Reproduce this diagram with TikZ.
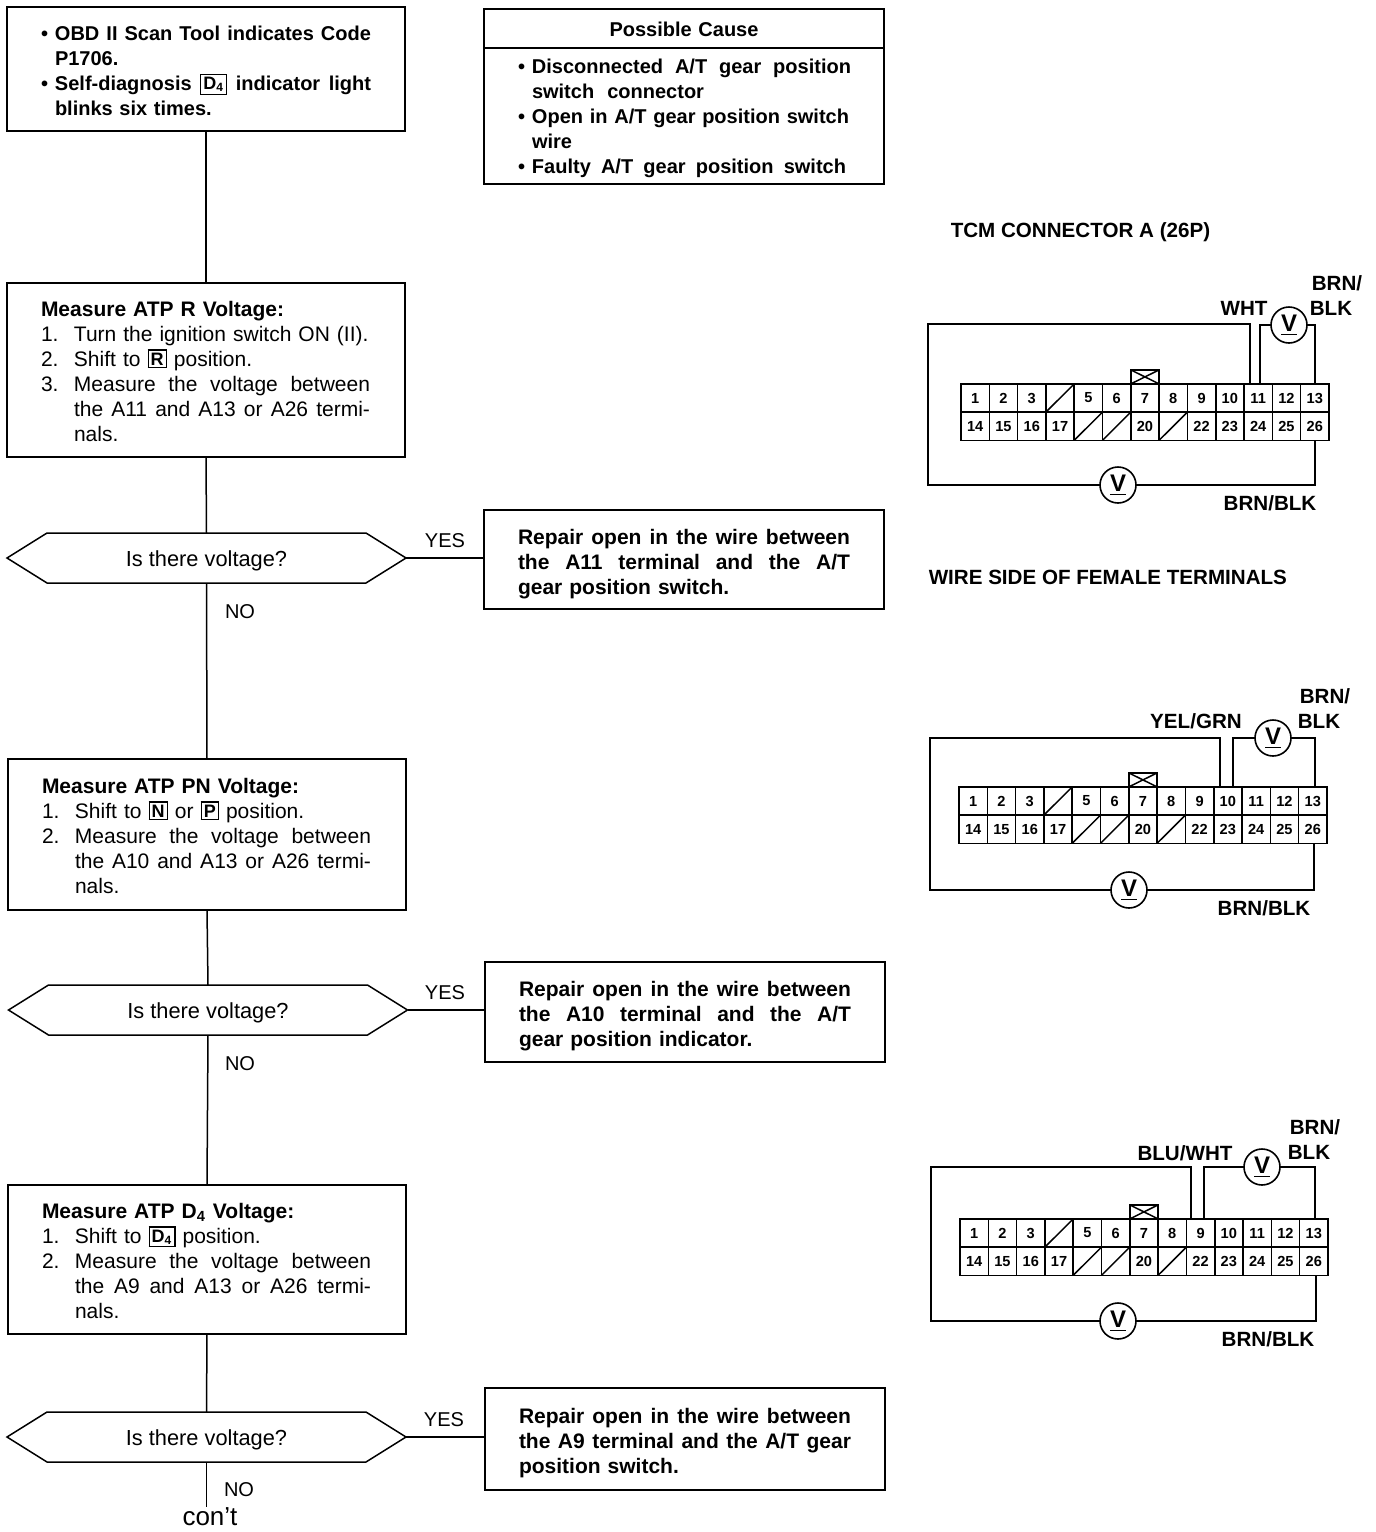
\documentclass[tikz,border=0pt]{standalone}
\usepackage{fontspec}
\setmainfont{Liberation Sans}
\usetikzlibrary{shapes.symbols}
\newcommand\rows[2][-4.5pt]{\raisebox{#1}[0pt][0pt]{\begin{tabular}{@{}l@{}}#2\end{tabular}}}
\newcommand\low[1]{\raisebox{-4pt}[0pt][0pt]{#1}}
\newcommand\wide[2]{\hbox to #1{\spaceskip=.28em plus 1fil\relax #2}}
\newcommand\bul{\makebox[7pt][l]{\textbullet}}
\newcommand\num[1]{\makebox[16.5pt][l]{#1}}
\newcommand\pos[1]{{\setlength\fboxsep{1pt}\setlength\fboxrule{.6pt}\raisebox{.5pt}{\fbox{\fontsize{9}{9}\selectfont\bfseries #1}}}}
\tikzset{
  sc/.style={x=.5pt,y=-.5pt,line width=.75pt,font=\fontsize{10.5}{12.5}\selectfont},
  stepbox/.style={draw,anchor=north west,inner ysep=0pt,inner xsep=17pt,outer sep=0pt,text width=165pt,minimum width=199pt},
  fixbox/.style={stepbox,font=\fontsize{10.5}{12.5}\selectfont\bfseries,text width=166pt,minimum width=200pt},
  causebox/.style={fixbox,font=\fontsize{10}{12.5}\selectfont\bfseries},
  ask/.style={draw,signal,signal to=west and east,signal pointer angle=64,inner sep=0pt,outer sep=0pt,minimum width=199.5pt,minimum height=25pt,font=\fontsize{10.9}{12}\selectfont},
  word/.style={font=\fontsize{10}{12}\selectfont},
  tag/.style={font=\fontsize{10.3}{12}\selectfont\bfseries,inner sep=0pt},
  pincell/.style={draw,line width=.8pt,minimum width=14.15pt,minimum height=14.1pt,inner sep=0pt,outer sep=0pt,font=\fontsize{7.3}{8}\selectfont\bfseries},
  meter/.style={draw,circle,line width=.8pt,minimum size=18pt,inner sep=0pt,outer sep=0pt,font=\fontsize{12}{12}\selectfont\bfseries},
  wire/.style={line width=1pt}
}
\begin{document}
\begin{tikzpicture}[sc]
  \useasboundingbox (0,0) rectangle (1376,1532);
  % flow, left column
  \node[stepbox,font=\fontsize{10}{12.5}\selectfont\bfseries,minimum height=62pt] (tool) at (7,7) {\rows{\bul \wide{158pt}{OBD II Scan Tool indicates Code}\\\hspace*{7pt}P1706.\\\bul \wide{158pt}{Self-diagnosis \pos{D\textsubscript{4}} indicator light}\\\hspace*{7pt}blinks six times.}};
  \node[stepbox,minimum height=87pt] (atpr) at (7,283) {\rows{\textbf{Measure ATP R Voltage:}\\\num{1.}Turn the ignition switch ON (II).\\\num{2.}Shift to \pos{R} position.\\\num{3.}\wide{148pt}{Measure the voltage between}\\\hspace*{16.5pt}\wide{148pt}{the A11 and A13 or A26 termi-}\\\hspace*{16.5pt}nals.}};
  \node[ask] (askr) at (206.5,558) {\low{Is there voltage?}};
  \node[stepbox,minimum height=75.5pt] (atpn) at (8,759) {\rows{\textbf{Measure ATP PN Voltage:}\\\num{1.}Shift to \pos{N} or \pos{P} position.\\\num{2.}\wide{148pt}{Measure the voltage between}\\\hspace*{16.5pt}\wide{148pt}{the A10 and A13 or A26 termi-}\\\hspace*{16.5pt}nals.}};
  \node[ask] (askn) at (208,1010) {\low{Is there voltage?}};
  \node[stepbox,minimum height=74.5pt] (atpd) at (8,1185) {\rows{\textbf{Measure ATP D\textsubscript{4} Voltage:}\\\num{1.}Shift to \pos{D\textsubscript{4}} position.\\\num{2.}\wide{148pt}{Measure the voltage between}\\\hspace*{16.5pt}\wide{148pt}{the A9 and A13 or A26 termi-}\\\hspace*{16.5pt}nals.}};
  \node[ask] (askd) at (206.5,1437) {\low{Is there voltage?}};
  \node[font=\fontsize{13}{14}\selectfont,inner sep=0pt] (cont) at (210,1517) {con't};

  % possible cause table
  \node[causebox,minimum height=19.5pt,align=center] (causehd) at (484,9) {\low{Possible Cause}};
  \node[causebox,minimum height=68pt] (cause) at (484,48) {\rows[-3.5pt]{\bul \wide{159.5pt}{Disconnected A/T gear position}\\\hspace*{7pt}\wide{86pt}{switch connector}\\\bul \wide{158.5pt}{Open in A/T gear position switch}\\\hspace*{7pt}wire\\\bul \wide{157pt}{Faulty A/T gear position switch}}};

  % repairs
  \node[fixbox,minimum height=49.5pt] (fixr) at (484,510) {\rows[-5pt]{\wide{166pt}{Repair open in the wire between}\\\wide{166pt}{the A11 terminal and the A/T}\\gear position switch.}};
  \node[fixbox,minimum height=50pt] (fixn) at (485,962) {\rows[-5pt]{\wide{166pt}{Repair open in the wire between}\\\wide{166pt}{the A10 terminal and the A/T}\\gear position indicator.}};
  \node[fixbox,minimum height=51pt] (fixd) at (485,1388) {\rows[-5pt]{\wide{166pt}{Repair open in the wire between}\\\wide{166pt}{the A9 terminal and the A/T gear}\\position switch.}};

  \draw (tool) -- (atpr);
  \draw (atpr.south) -- (askr.north);
  \draw (askr.south) -- (atpn.north);
  \draw (atpn.south) -- (askn.north);
  \draw (askn.south) -- (atpd.north);
  \draw (atpd.south) -- (askd.north);
  \draw (askd.south) -- (askd.south |- cont.north);
  \draw (askr.east) -- (askr.east -| fixr.west);
  \draw (askn.east) -- (askn.east -| fixn.west);
  \draw (askd.east) -- (askd.east -| fixd.west);

  \node[word] (yesr) at (445,541) {YES};
  \node[word] (nor) at (240,612) {NO};
  \node[word] (yesn) at (445,993) {YES};
  \node[word] (non) at (240,1064) {NO};
  \node[word] (yesd) at (444,1420) {YES};
  \node[word] (nod) at (239,1490) {NO};

  % captions
  \node[tag,anchor=west] (tcm) at (950,232) {TCM CONNECTOR A (26P)};
  \node[tag,anchor=west] (side) at (928,577) {WIRE SIDE OF FEMALE TERMINALS};

  % the three connector faces
  \foreach \nm/\ox/\oy in {a/961/384,b/959/787,c/960/1219}{
    \begin{scope}[shift={(\ox,\oy)}]
      \foreach \n in {1,2,3,5,6,7,8,9,10,11,12,13}{\node[pincell] (\nm\n) at ({(\n-.5)*28.3},14) {\n};}
      \foreach \n in {14,15,16,17,20,22,23,24,25,26}{\node[pincell] (\nm\n) at ({(\n-13.5)*28.3},42.2) {\n};}
      \foreach \n in {4}{\node[pincell] (\nm\n) at ({(\n-.5)*28.3},14) {};\draw (\nm\n.south west)--(\nm\n.north east);}
      \foreach \n in {18,19,21}{\node[pincell] (\nm\n) at ({(\n-13.5)*28.3},42.2) {};\draw (\nm\n.south west)--(\nm\n.north east);}
      \draw[line width=.9pt] (\nm7.north west) rectangle ++(28.3,-14);
      \draw (\nm7.north west) -- ++(28.3,-14);
      \draw (\nm7.north east) -- ++(-28.3,-14);
    \end{scope}
  }

  % connector a
  \coordinate (alt) at (928,324);
  \coordinate (alb) at (928,485);
  \coordinate (art) at (1315,325);
  \coordinate (arb) at (1315,485);
  \coordinate (aup) at (1250,324);
  \coordinate (aupp) at (1260,325);
  \node[meter] (av) at (1118,485) {\underline{V}};
  \node[meter] (avv) at (1289,325) {\underline{V}};
  \draw[wire] (a11.north -| aup) -- (aup) -- (alt) -- (alb) -- (av);
  \draw[wire] (av) -- (arb) -- (a26.south -| arb);
  \draw[wire] (a11.north -| aupp) -- (aupp) -- (avv);
  \draw[wire] (avv) -- (art) -- (a13.north -| art);
  \node[tag] (awht) at (1244,308) {WHT};
  \node[tag] (abrn) at (1337,283) {BRN/};
  \node[tag] (ablk) at (1331,308) {BLK};
  \node[tag] (abb) at (1270,503) {BRN/BLK};

  % connector b
  \coordinate (blt) at (930,738);
  \coordinate (blb) at (930,890);
  \coordinate (brt) at (1315,738);
  \coordinate (brb) at (1314,890);
  \coordinate (bup) at (1220,738);
  \coordinate (bupp) at (1233,738);
  \node[meter] (bv) at (1129,890) {\underline{V}};
  \node[meter] (bvv) at (1273,738) {\underline{V}};
  \draw[wire] (b10.north -| bup) -- (bup) -- (blt) -- (blb) -- (bv);
  \draw[wire] (bv) -- (brb) -- (b26.south -| brb);
  \draw[wire] (b10.north -| bupp) -- (bupp) -- (bvv);
  \draw[wire] (bvv) -- (brt) -- (b13.north -| brt);
  \node[tag] (bgrn) at (1196,721) {YEL/GRN};
  \node[tag] (bbrn) at (1325,696) {BRN/};
  \node[tag] (bblk) at (1319,721) {BLK};
  \node[tag] (bbb) at (1264,908) {BRN/BLK};

  % connector c
  \coordinate (clt) at (931,1167);
  \coordinate (clb) at (931,1321);
  \coordinate (crt) at (1315,1167);
  \coordinate (crb) at (1316,1321);
  \coordinate (cup) at (1191,1167);
  \coordinate (cupp) at (1204,1167);
  \node[meter] (cv) at (1118,1321) {\underline{V}};
  \node[meter] (cvv) at (1262,1167) {\underline{V}};
  \draw[wire] (c9.north -| cup) -- (cup) -- (clt) -- (clb) -- (cv);
  \draw[wire] (cv) -- (crb) -- (c26.south -| crb);
  \draw[wire] (c9.north -| cupp) -- (cupp) -- (cvv);
  \draw[wire] (cvv) -- (crt) -- (c13.north -| crt);
  \node[tag] (cwht) at (1185,1153) {BLU/WHT};
  \node[tag] (cbrn) at (1315,1127) {BRN/};
  \node[tag] (cblk) at (1309,1152) {BLK};
  \node[tag] (cbb) at (1268,1339) {BRN/BLK};
\end{tikzpicture}
\end{document}
